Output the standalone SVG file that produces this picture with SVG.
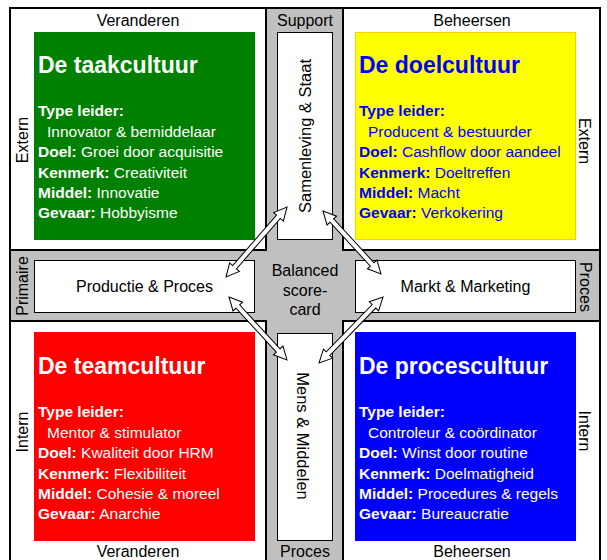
<svg xmlns="http://www.w3.org/2000/svg" width="607" height="560" viewBox="0 0 607 560">
<style>
text{font-family:"Liberation Sans",Arial,sans-serif}
.lbl{font-size:16px;fill:#000;text-anchor:middle}
.vl{font-size:16.5px;fill:#000;text-anchor:middle}
.title{font-size:23px;font-weight:bold}
.body{font-size:15.5px}
.b{font-weight:bold}
.w{fill:#fff}
.bl{fill:#0000ff}
.quad{fill:#fff;stroke:#000;stroke-width:2}
.inner{fill:#fff;stroke:#000;stroke-width:1}
.arrow{fill:#fff;stroke:#000;stroke-width:1;stroke-linejoin:miter}
</style>
<rect width="607" height="560" fill="#fff"/>
<g id="background">
<rect x="10" y="8" width="590" height="565" fill="#c0c0c0" stroke="#000" stroke-width="2"/>
<rect class="quad" x="10" y="8" width="256" height="242"/>
<rect class="quad" x="343" y="8" width="257" height="242"/>
<rect class="quad" x="10" y="321" width="256" height="252"/>
<rect class="quad" x="343" y="321" width="257" height="252"/>
</g>
<g id="axis-labels">
<text class="lbl" x="138" y="26">Veranderen</text>
<text class="lbl" x="472" y="26">Beheersen</text>
<text class="lbl" x="305" y="26">Support</text>
<text class="lbl" x="138" y="557">Veranderen</text>
<text class="lbl" x="472" y="557">Beheersen</text>
<text class="lbl" x="305" y="557">Proces</text>
<text class="lbl" transform="translate(28,140) rotate(-90)">Extern</text>
<text class="lbl" transform="translate(579,141) rotate(90)">Extern</text>
<text class="lbl" transform="translate(28,432) rotate(-90)">Intern</text>
<text class="lbl" transform="translate(579,431) rotate(90)">Intern</text>
<text class="lbl" transform="translate(28,286) rotate(-90)">Primaire</text>
<text class="lbl" transform="translate(580,287) rotate(90)">Proces</text>
</g>
<g id="taakcultuur">
<rect x="34" y="32" width="221" height="208" fill="#008000"/>
<text class="title w" x="38" y="73">De taakcultuur</text>
<text class="body w" x="38" y="116"><tspan class="b">Type leider:</tspan></text>
<text class="body w" x="47" y="136.5">Innovator &amp; bemiddelaar</text>
<text class="body w" x="38" y="157"><tspan class="b">Doel:</tspan> Groei door acquisitie</text>
<text class="body w" x="38" y="177.5"><tspan class="b">Kenmerk:</tspan> Creativiteit</text>
<text class="body w" x="38" y="198"><tspan class="b">Middel:</tspan> Innovatie</text>
<text class="body w" x="38" y="218"><tspan class="b">Gevaar:</tspan> Hobbyisme</text>
</g>
<g id="doelcultuur">
<rect x="355.5" y="32.5" width="220" height="207" fill="#ffff00" stroke="#ffcc00" stroke-width="1"/>
<text class="title bl" x="359" y="73">De doelcultuur</text>
<text class="body bl" x="359" y="116"><tspan class="b">Type leider:</tspan></text>
<text class="body bl" x="368" y="136.5">Producent &amp; bestuurder</text>
<text class="body bl" x="359" y="157"><tspan class="b">Doel:</tspan> Cashflow door aandeel</text>
<text class="body bl" x="359" y="177.5"><tspan class="b">Kenmerk:</tspan> Doeltreffen</text>
<text class="body bl" x="359" y="198"><tspan class="b">Middel:</tspan> Macht</text>
<text class="body bl" x="359" y="218"><tspan class="b">Gevaar:</tspan> Verkokering</text>
</g>
<g id="teamcultuur">
<rect x="34" y="332" width="221" height="209" fill="#ff0000"/>
<text class="title w" x="38" y="374">De teamcultuur</text>
<text class="body w" x="38" y="417"><tspan class="b">Type leider:</tspan></text>
<text class="body w" x="47" y="437.5">Mentor &amp; stimulator</text>
<text class="body w" x="38" y="458"><tspan class="b">Doel:</tspan> Kwaliteit door HRM</text>
<text class="body w" x="38" y="478.5"><tspan class="b">Kenmerk:</tspan> Flexibiliteit</text>
<text class="body w" x="38" y="499"><tspan class="b">Middel:</tspan> Cohesie &amp; moreel</text>
<text class="body w" x="38" y="519"><tspan class="b">Gevaar:</tspan> Anarchie</text>
</g>
<g id="processcultuur">
<rect x="355" y="332" width="221" height="209" fill="#0000ff"/>
<text class="title w" x="359" y="374">De procescultuur</text>
<text class="body w" x="359" y="417"><tspan class="b">Type leider:</tspan></text>
<text class="body w" x="368" y="437.5">Controleur &amp; coördinator</text>
<text class="body w" x="359" y="458"><tspan class="b">Doel:</tspan> Winst door routine</text>
<text class="body w" x="359" y="478.5"><tspan class="b">Kenmerk:</tspan> Doelmatigheid</text>
<text class="body w" x="359" y="499"><tspan class="b">Middel:</tspan> Procedures &amp; regels</text>
<text class="body w" x="359" y="519"><tspan class="b">Gevaar:</tspan> Bureaucratie</text>
</g>
<g id="samenleving">
<rect class="inner" x="277.5" y="32.5" width="55" height="207"/>
<text class="vl" transform="translate(311,136) rotate(-90)">Samenleving &amp; Staat</text>
</g>
<g id="mens">
<rect class="inner" x="277.5" y="333.5" width="55" height="207"/>
<text class="vl" transform="translate(297,436) rotate(90)">Mens &amp; Middelen</text>
</g>
<g id="productie">
<rect class="inner" x="34.5" y="260.5" width="220" height="52"/>
<text class="lbl" x="144.5" y="292">Productie &amp; Proces</text>
</g>
<g id="markt">
<rect class="inner" x="355.5" y="260.5" width="220" height="52"/>
<text class="lbl" x="465.5" y="292">Markt &amp; Marketing</text>
</g>
<g id="scorecard">
<text class="lbl" x="305" y="276">Balanced</text>
<text class="lbl" x="305" y="296">score-</text>
<text class="lbl" x="305" y="315">card</text>
</g>
<g id="connectors">
<path class="arrow" transform="translate(287,207) rotate(131.07)" d="M0,0 L13,-6.5 L13,-2.5 L79.85,-2.5 L79.85,-6.5 L92.85,0 L79.85,6.5 L79.85,2.5 L13,2.5 L13,6.5 Z"/>
<path class="arrow" transform="translate(323,211) rotate(47.37)" d="M0,0 L13,-6.5 L13,-2.5 L72.6,-2.5 L72.6,-6.5 L85.6,0 L72.6,6.5 L72.6,2.5 L13,2.5 L13,6.5 Z"/>
<path class="arrow" transform="translate(229,297) rotate(47.37)" d="M0,0 L13,-6.5 L13,-2.5 L72.6,-2.5 L72.6,-6.5 L85.6,0 L72.6,6.5 L72.6,2.5 L13,2.5 L13,6.5 Z"/>
<path class="arrow" transform="translate(383,297) rotate(134.12)" d="M0,0 L13,-6.5 L13,-2.5 L78.9,-2.5 L78.9,-6.5 L91.9,0 L78.9,6.5 L78.9,2.5 L13,2.5 L13,6.5 Z"/>
</g>
</svg>
